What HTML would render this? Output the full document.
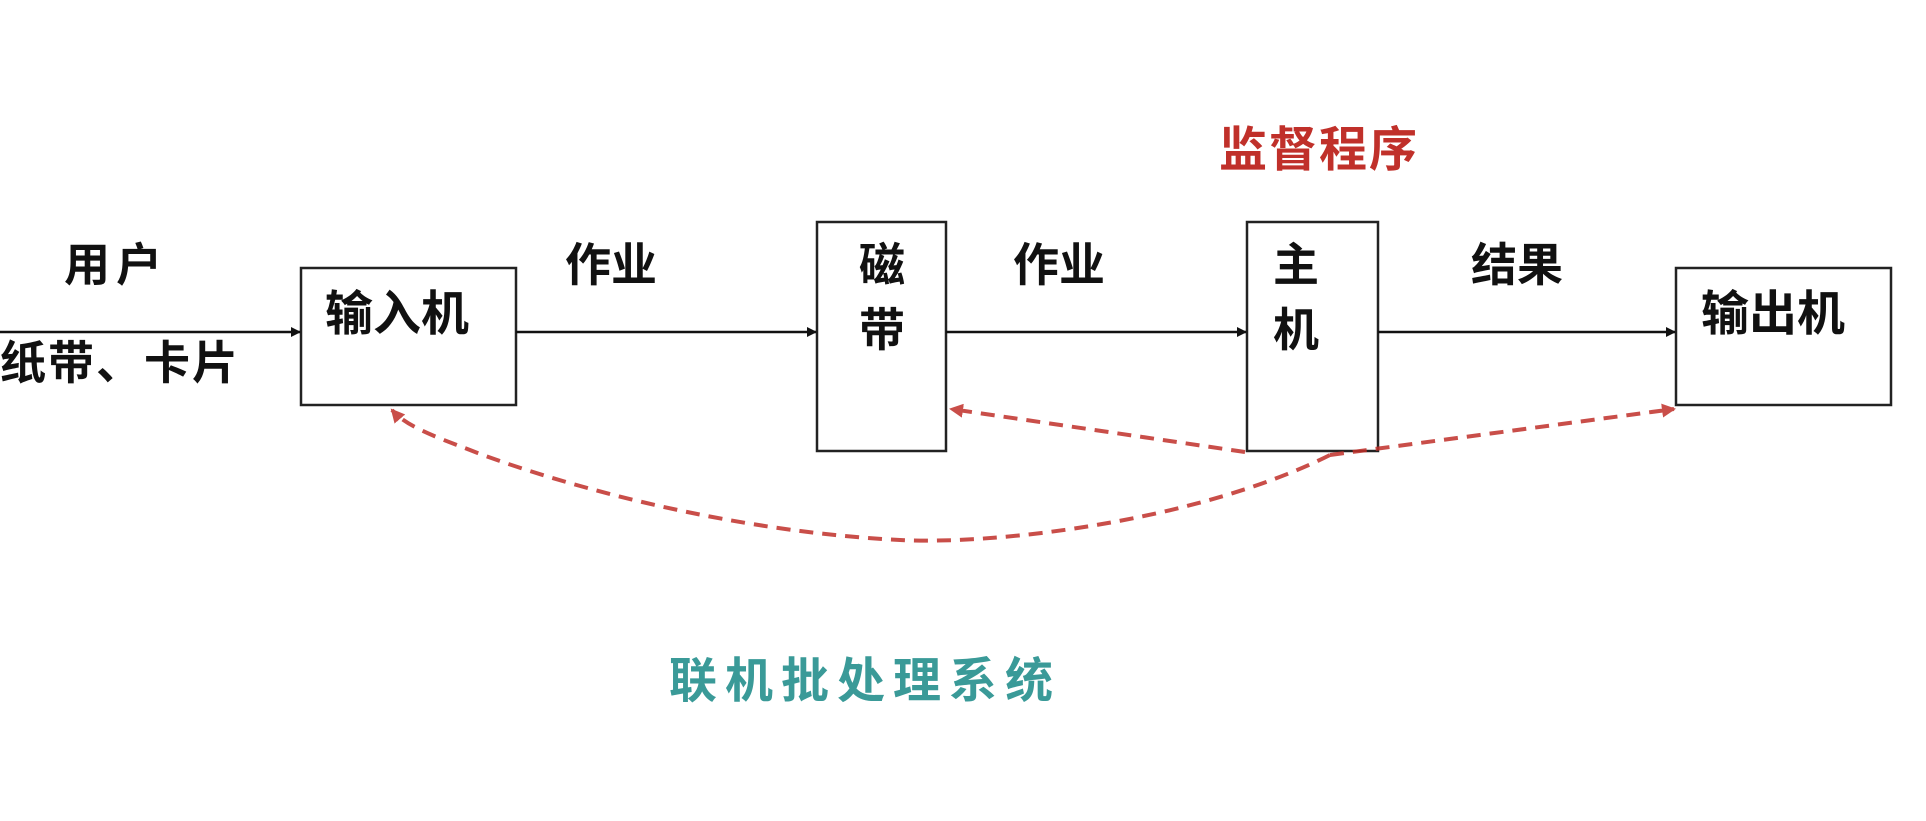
<!DOCTYPE html>
<html><head><meta charset="utf-8"><style>
html,body{margin:0;padding:0;background:#fff;}
svg{display:block;}
text{font-family:"Liberation Sans","Noto Sans CJK SC",sans-serif;font-weight:bold;}
</style></head><body>
<svg width="1926" height="821" viewBox="0 0 1926 821" xmlns="http://www.w3.org/2000/svg">
<defs>
<marker id="ab" markerWidth="10" markerHeight="10" refX="9" refY="5" orient="auto" markerUnits="userSpaceOnUse" viewBox="0 0 10 10"><path d="M0,0 L10,5 L0,10 z" fill="#111"/></marker>
<marker id="ar" markerWidth="14" markerHeight="14" refX="12" refY="7" orient="auto" markerUnits="userSpaceOnUse" viewBox="0 0 14 14"><path d="M0,0 L14,7 L0,14 z" fill="#c0302a"/></marker>
</defs>
<g fill="none" stroke="#222" stroke-width="2.5">
<rect x="301" y="268" width="215" height="137"/>
<rect x="817" y="222" width="129" height="229"/>
<rect x="1247" y="222" width="131" height="229"/>
<rect x="1676" y="268" width="215" height="137"/>
</g>
<g stroke="#111" stroke-width="2.5">
<line x1="0" y1="332" x2="300" y2="332" marker-end="url(#ab)"/>
<line x1="516" y1="332" x2="816" y2="332" marker-end="url(#ab)"/>
<line x1="946" y1="332" x2="1246" y2="332" marker-end="url(#ab)"/>
<line x1="1378" y1="332" x2="1675" y2="332" marker-end="url(#ab)"/>
</g>
<g fill="none" stroke="#c0302a" stroke-width="4" stroke-dasharray="14,9" opacity="0.85">
<path d="M1330,455 C1200,520 1000,545 900,540 C700,530 520,470 470,450 C430,435 405,425 392,410" marker-end="url(#ar)"/>
<path d="M1330,455 L1674,409" marker-end="url(#ar)"/>
<path d="M1245,452 L951,409" marker-end="url(#ar)"/>
</g>
<g font-size="46" fill="#111">
<text x="64" y="281" letter-spacing="6">用户</text>
<text x="0" y="379" letter-spacing="2">纸带、卡片</text>
<text x="325" y="330" font-size="48">输入机</text>
<text x="565" y="281">作业</text>
<text x="859" y="281">磁</text>
<text x="859" y="346">带</text>
<text x="1273" y="281">主</text>
<text x="1273" y="346">机</text>
<text x="1013" y="281">作业</text>
<text x="1471" y="281">结果</text>
<text x="1701" y="330" font-size="48">输出机</text>
</g>
<text x="1219" y="166" font-size="48" fill="#c0302a" letter-spacing="2">监督程序</text>
<text x="669" y="697" font-size="48" fill="#3a9a98" letter-spacing="8">联机批处理系统</text>
</svg>
</body></html>
